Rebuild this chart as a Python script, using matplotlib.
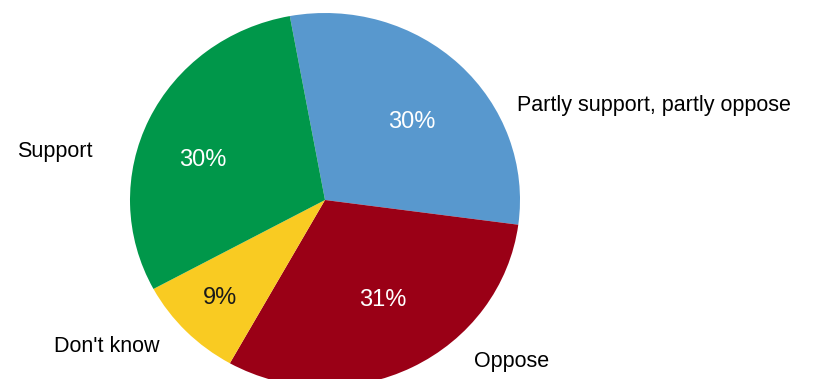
import matplotlib.pyplot as plt

# data (clockwise from the top)
labels = ['Partly support, partly oppose', 'Oppose', "Don't know", 'Support']
values = [30, 31, 9, 30]
colors = ['#5898CE', '#9A0016', '#F9CB22', '#00974A']
pct_colors = ['white', 'white', '#1a1a1a', 'white']

# text placement (data units, radius = 1)
label_pos = [(0.985, 0.508), (0.959, -0.861), (-1.118, -0.786), (-1.385, 0.257)]
label_ha = ['left', 'center', 'center', 'center']
pct_pos = [(0.446, 0.417), (0.297, -0.535), (-0.538, -0.524), (-0.626, 0.214)]

plt.rcParams['font.family'] = ['Liberation Sans', 'DejaVu Sans']

fig = plt.figure(figsize=(8.37, 3.79), dpi=100)
ax = fig.add_axes([130 / 837, -8 / 379, 390 / 837, 374 / 379])

wedges, texts, autotexts = ax.pie(values, labels=labels, colors=colors,
                                  startangle=100.4, counterclock=False,
                                  autopct='%d%%', pctdistance=0.62,
                                  wedgeprops=dict(linewidth=0),
                                  textprops=dict(fontsize=15.5))

for t, pos, ha in zip(texts, label_pos, label_ha):
    t.set_position(pos)
    t.set_ha(ha)
    t.set_va('center')
    t.set_color('black')

for t, pos, c in zip(autotexts, pct_pos, pct_colors):
    t.set_position(pos)
    t.set_ha('center')
    t.set_va('center')
    t.set_color(c)
    t.set_fontsize(17)

ax.set_aspect('auto')
ax.set_xlim(-1, 1)
ax.set_ylim(-1, 1)
ax.axis('off')

fig.savefig('out.png', dpi=100)
